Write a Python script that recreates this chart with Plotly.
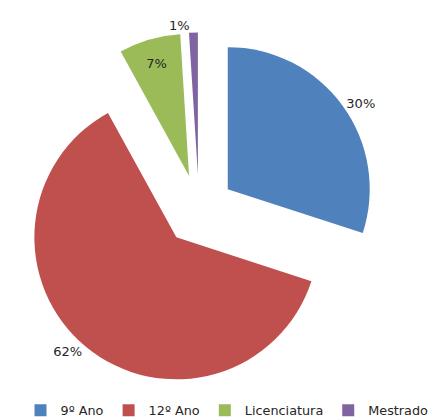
import plotly.graph_objects as go

labels = ["9º Ano", "12º Ano", "Licenciatura", "Mestrado"]
values = [30, 62, 7, 1]
colors = ["#4F81BD", "#C0504D", "#9BBB59", "#8064A2"]
text_positions = ["outside", "outside", "inside", "outside"]
pulls = [0.25, 0.25, 0.25, 0.25]

fig = go.Figure(
    go.Pie(
        labels=labels,
        values=values,
        sort=False,
        direction="clockwise",
        rotation=0,
        pull=pulls,
        marker=dict(colors=colors),
        textinfo="percent",
        textposition=text_positions,
        insidetextorientation="horizontal",
        textfont=dict(family="DejaVu Sans", size=13, color="#262626"),
        domain=dict(x=[13 / 438, 369 / 438], y=[1 - 379.5 / 419, 1 - 24.5 / 419]),
        hoverinfo="label+percent",
    )
)

fig.update_layout(
    width=438,
    height=419,
    margin=dict(l=0, r=0, t=0, b=0, autoexpand=False),
    paper_bgcolor="white",
    plot_bgcolor="white",
    showlegend=True,
    legend=dict(
        orientation="h",
        x=0.5,
        xanchor="center",
        y=0.004,
        yanchor="bottom",
        font=dict(family="DejaVu Sans", size=12.8, color="#262626"),
        itemwidth=30,
    ),
)

fig.write_html("out.html")
